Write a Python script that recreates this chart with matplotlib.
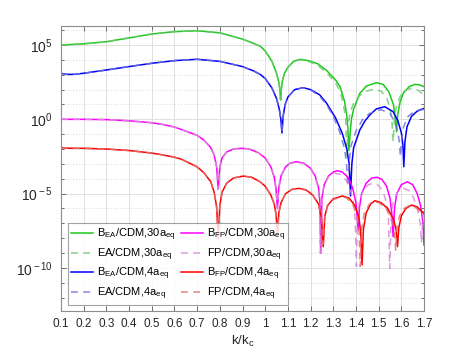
import numpy as np
import matplotlib.pyplot as plt
from matplotlib import ticker

# wavenumber ratio k/k_c and log10 of the amplitude ratio
k_bea30 = [0.1, 0.2, 0.3, 0.4, 0.5, 0.6, 0.7, 0.8, 0.9, 0.95, 0.98, 1.0, 1.03, 1.05, 1.06, 1.065, 1.068,
           1.071, 1.076, 1.085, 1.1, 1.125, 1.153, 1.19, 1.23, 1.27, 1.31, 1.33, 1.35, 1.36, 1.365, 1.369,
           1.375, 1.38, 1.39, 1.417, 1.447, 1.49, 1.52, 1.545, 1.565, 1.574, 1.579, 1.584, 1.595, 1.61,
           1.635, 1.66, 1.68, 1.7]
e_bea30 = [5.0, 5.08, 5.22, 5.48, 5.74, 5.9, 5.96, 5.82, 5.4, 5.1, 4.9, 4.6, 3.9, 3.1, 2.5, 2.0, 1.3,
           2.0, 2.6, 3.1, 3.5, 3.9, 4.04, 3.95, 3.75, 3.3, 2.65, 2.2, 1.2, 0.2, -0.8, -2.1,
           -0.8, 0.0, 0.7, 1.75, 2.25, 2.46, 2.35, 1.85, 1.0, 0.0, -0.83, 0.3, 1.2, 1.8,
           2.2, 2.35, 2.32, 2.2]

k_ea30 = [0.1, 0.2, 0.3, 0.4, 0.5, 0.6, 0.7, 0.8, 0.9, 0.95, 0.98, 1.0, 1.03, 1.05, 1.06, 1.065, 1.068,
          1.071, 1.076, 1.085, 1.1, 1.125, 1.153, 1.19, 1.23, 1.27, 1.31, 1.33, 1.345, 1.355, 1.36,
          1.366, 1.375, 1.39, 1.417, 1.447, 1.48, 1.51, 1.535, 1.55, 1.558, 1.564, 1.57, 1.58, 1.6,
          1.625, 1.65, 1.675, 1.7]
e_ea30 = [5.0, 5.08, 5.22, 5.48, 5.74, 5.9, 5.96, 5.82, 5.4, 5.1, 4.9, 4.6, 3.9, 3.1, 2.5, 2.0, 1.3,
          2.0, 2.6, 3.1, 3.5, 3.88, 4.0, 3.9, 3.65, 3.15, 2.45, 1.9, 1.0, 0.0, -2.5,
          -0.3, 0.5, 1.1, 1.6, 1.9, 2.03, 1.9, 1.45, 0.8, 0.0, -1.5, 0.2, 1.0, 1.7,
          2.0, 2.1, 1.95, 1.64]

k_bea4 = [0.1, 0.13, 0.16, 0.2, 0.3, 0.4, 0.5, 0.6, 0.7, 0.8, 0.9, 0.95, 0.98, 1.0, 1.03, 1.05, 1.062,
          1.069, 1.074, 1.079, 1.088, 1.1, 1.13, 1.167, 1.2, 1.24, 1.27, 1.31, 1.34, 1.36, 1.37, 1.376,
          1.382, 1.39, 1.417, 1.44, 1.461, 1.49, 1.527, 1.564, 1.585, 1.6, 1.607, 1.611, 1.616, 1.625,
          1.645, 1.67, 1.7]
e_bea4 = [3.09, 3.02, 3.03, 3.1, 3.32, 3.55, 3.77, 3.95, 4.04, 3.9, 3.55, 3.25, 3.0, 2.75, 2.1, 1.4, 0.7,
          0.0, -0.92, 0.2, 1.0, 1.5, 2.0, 2.13, 2.0, 1.65, 1.1, 0.1, -0.95, -2.0, -3.0, -5.16,
          -3.0, -1.9, -0.72, -0.1, 0.29, 0.7, 0.85, 0.51, -0.1, -0.9, -1.7, -3.19, -1.5, -0.5,
          0.2, 0.55, 0.74]

k_ea4 = [0.1, 0.13, 0.16, 0.2, 0.3, 0.4, 0.5, 0.6, 0.7, 0.8, 0.9, 0.95, 0.98, 1.0, 1.03, 1.05, 1.062,
         1.069, 1.074, 1.079, 1.088, 1.1, 1.13, 1.167, 1.2, 1.24, 1.27, 1.3, 1.33, 1.35, 1.358, 1.364,
         1.37, 1.378, 1.4, 1.43, 1.46, 1.51, 1.55, 1.572, 1.585, 1.592, 1.596, 1.601, 1.61, 1.63,
         1.66, 1.7]
e_ea4 = [3.09, 3.02, 3.03, 3.1, 3.32, 3.55, 3.77, 3.95, 4.04, 3.9, 3.55, 3.25, 3.0, 2.75, 2.1, 1.4, 0.7,
         0.0, -0.92, 0.2, 1.0, 1.5, 2.0, 2.12, 1.98, 1.55, 1.0, 0.2, -0.9, -2.0, -2.9, -4.5,
         -2.9, -1.8, -0.8, 0.0, 0.4, 0.65, 0.4, -0.2, -0.9, -1.6, -2.5, -1.4, -0.5, 0.2,
         0.55, 0.67]

k_bfp30 = [0.1, 0.2, 0.3, 0.4, 0.5, 0.55, 0.6, 0.63, 0.7, 0.73, 0.76, 0.775, 0.786, 0.793, 0.8, 0.81,
           0.83, 0.86, 0.896, 0.93, 0.97, 1.0, 1.025, 1.04, 1.048, 1.054, 1.06, 1.07, 1.09, 1.11, 1.138,
           1.17, 1.2, 1.22, 1.235, 1.241, 1.245, 1.25, 1.26, 1.28, 1.3, 1.317, 1.34, 1.365, 1.385, 1.4,
           1.405, 1.41, 1.415, 1.425, 1.445, 1.47, 1.493, 1.515, 1.535, 1.55, 1.558, 1.564, 1.57, 1.58,
           1.6, 1.626, 1.65, 1.67, 1.685, 1.695, 1.7]
e_bfp30 = [0.0, 0.0, -0.02, -0.1, -0.23, -0.35, -0.52, -0.68, -1.08, -1.4, -1.9, -2.4, -3.2, -4.71, -3.2, -2.6,
           -2.2, -2.0, -1.95, -2.0, -2.25, -2.6, -3.2, -3.9, -4.7, -6.0, -4.6, -3.8, -3.2, -2.95, -2.85,
           -2.95, -3.3, -3.8, -4.6, -5.5, -9.02, -5.3, -4.4, -3.8, -3.55, -3.46, -3.55, -3.9, -4.6, -5.6,
           -6.5, -7.45, -6.0, -5.0, -4.3, -3.95, -3.9, -4.05, -4.5, -5.3, -6.3, -7.9, -6.0, -5.0,
           -4.4, -4.2, -4.4, -5.0, -5.8, -6.9, -8.46]

k_fp30 = [0.1, 0.2, 0.3, 0.4, 0.5, 0.55, 0.6, 0.63, 0.7, 0.73, 0.76, 0.775, 0.786, 0.793, 0.8, 0.81,
          0.83, 0.86, 0.896, 0.93, 0.97, 1.0, 1.025, 1.04, 1.048, 1.054, 1.06, 1.07, 1.09, 1.11, 1.138,
          1.17, 1.2, 1.22, 1.233, 1.239, 1.243, 1.248, 1.26, 1.28, 1.305, 1.33, 1.355, 1.375, 1.39,
          1.397, 1.402, 1.407, 1.415, 1.435, 1.455, 1.475, 1.5, 1.52, 1.535, 1.543, 1.549, 1.555, 1.565,
          1.585, 1.61, 1.635, 1.655, 1.672, 1.683, 1.689, 1.694, 1.7]
e_fp30 = [0.0, 0.0, -0.02, -0.1, -0.23, -0.35, -0.52, -0.68, -1.08, -1.4, -1.9, -2.4, -3.2, -4.71, -3.2, -2.6,
          -2.2, -2.0, -1.95, -2.0, -2.25, -2.6, -3.2, -3.9, -4.7, -6.0, -4.6, -3.8, -3.2, -2.97, -2.88,
          -2.98, -3.35, -3.85, -4.6, -5.5, -9.0, -5.3, -4.45, -3.85, -3.62, -3.7, -4.05, -4.7, -5.7,
          -6.8, -9.9, -6.6, -5.5, -4.7, -4.4, -4.3, -4.45, -4.9, -5.6, -6.6, -10.03, -6.5, -5.5,
          -4.85, -4.65, -4.8, -5.3, -6.1, -7.0, -8.3, -6.8, -6.1]

k_bfp4 = [0.1, 0.11, 0.15, 0.2, 0.3, 0.4, 0.5, 0.55, 0.6, 0.63, 0.7, 0.73, 0.76, 0.775, 0.786, 0.793, 0.8,
          0.81, 0.83, 0.86, 0.903, 0.94, 0.977, 1.0, 1.025, 1.04, 1.048, 1.054, 1.06, 1.07, 1.09, 1.12,
          1.15, 1.18, 1.21, 1.235, 1.248, 1.256, 1.263, 1.275, 1.3, 1.34, 1.37, 1.395, 1.413, 1.421,
          1.427, 1.433, 1.445, 1.465, 1.483, 1.51, 1.54, 1.565, 1.577, 1.583, 1.589, 1.6, 1.62, 1.645,
          1.67, 1.7]
e_bfp4 = [-1.86, -1.93, -1.95, -1.95, -2.0, -2.1, -2.27, -2.4, -2.55, -2.68, -3.2, -3.6, -4.2, -4.9, -5.9, -8.0, -5.8,
          -4.9, -4.3, -3.95, -3.82, -3.9, -4.2, -4.5, -5.1, -5.7, -6.4, -7.8, -6.3, -5.6, -5.0, -4.7,
          -4.65, -4.75, -5.1, -5.7, -6.6, -8.57, -6.5, -5.8, -5.35, -5.16, -5.3, -5.8, -6.6, -7.6,
          -9.8, -7.4, -6.3, -5.7, -5.48, -5.6, -6.0, -6.7, -7.4, -8.57, -7.3, -6.5, -6.0, -5.77,
          -5.9, -6.33]

k_fp4 = [0.1, 0.11, 0.15, 0.2, 0.3, 0.4, 0.5, 0.55, 0.6, 0.63, 0.7, 0.73, 0.76, 0.775, 0.786, 0.793, 0.8,
         0.81, 0.83, 0.86, 0.903, 0.94, 0.977, 1.0, 1.025, 1.04, 1.048, 1.054, 1.06, 1.07, 1.09, 1.12,
         1.15, 1.18, 1.21, 1.235, 1.248, 1.255, 1.262, 1.275, 1.3, 1.34, 1.36, 1.39, 1.407, 1.414,
         1.419, 1.425, 1.437, 1.46, 1.478, 1.505, 1.535, 1.557, 1.569, 1.575, 1.581, 1.592, 1.612,
         1.637, 1.665, 1.7]
e_fp4 = [-1.86, -1.93, -1.95, -1.95, -2.0, -2.1, -2.27, -2.4, -2.55, -2.68, -3.2, -3.6, -4.2, -4.9, -5.9, -8.0, -5.8,
         -4.9, -4.3, -3.95, -3.82, -3.9, -4.2, -4.5, -5.1, -5.7, -6.4, -7.8, -6.3, -5.6, -5.0, -4.7,
         -4.67, -4.78, -5.12, -5.7, -6.6, -8.4, -6.5, -5.85, -5.4, -5.2, -5.3, -5.85, -6.7, -7.6,
         -9.9, -7.4, -6.3, -5.7, -5.5, -5.65, -6.05, -6.7, -7.4, -8.8, -7.3, -6.5, -6.0,
         -5.8, -5.95, -6.45]

labels = [r'B$_{\rm EA}$/CDM,30a$_{\rm eq}$', r'EA/CDM,30a$_{\rm eq}$',
          r'B$_{\rm EA}$/CDM,4a$_{\rm eq}$', r'EA/CDM,4a$_{\rm eq}$',
          r'B$_{\rm FP}$/CDM,30a$_{\rm eq}$', r'FP/CDM,30a$_{\rm eq}$',
          r'B$_{\rm FP}$/CDM,4a$_{\rm eq}$', r'FP/CDM,4a$_{\rm eq}$']

plt.rcParams['font.family'] = ['Liberation Sans', 'DejaVu Sans']
plt.rcParams['mathtext.fontset'] = 'custom'
plt.rcParams['mathtext.rm'] = 'Liberation Sans'
plt.rcParams['mathtext.it'] = 'Liberation Sans:italic'

fig = plt.figure(figsize=(4.69, 3.52), dpi=100)
ax = fig.add_axes([61 / 469, 1 - 311 / 352, 363 / 469, 285 / 352])

curves = [(k_bea30, e_bea30, '#1ec81e', '-'), (k_ea30, e_ea30, '#70c870', '--'),
          (k_bea4, e_bea4, '#0000ff', '-'), (k_ea4, e_ea4, '#7070d8', '--'),
          (k_bfp30, e_bfp30, '#ff00ff', '-'), (k_fp30, e_fp30, '#d88ad8', '--'),
          (k_bfp4, e_bfp4, '#ff0000', '-'), (k_fp4, e_fp4, '#e07070', '--')]

for (k, e, c, ls), lab in zip(curves, labels):
    if ls == '-':
        ax.plot(k, 10.0 ** np.array(e), color=c, lw=1.1, label=lab)
    else:
        ax.plot(k, 10.0 ** np.array(e), color=c, lw=1.1, ls=(0, (4.5, 3.5)), alpha=0.85, label=lab)

ax.set_yscale('log')
ax.set_xlim(0.1, 1.7)
ax.set_ylim(10 ** -12.9, 10 ** 6.28)
ax.set_xticks(np.arange(0.1, 1.71, 0.1))
ax.set_xticklabels(['0.1', '0.2', '0.3', '0.4', '0.5', '0.6', '0.7', '0.8', '0.9', '1',
                    '1.1', '1.2', '1.3', '1.4', '1.5', '1.6', '1.7'])
ax.yaxis.set_major_locator(ticker.FixedLocator([1e-10, 1e-5, 1e0, 1e5]))
ax.yaxis.set_major_formatter(ticker.FixedFormatter([r'10$^{\rm -10}$', r'10$^{\rm -5}$',
                                                    r'10$^{\rm 0}$', r'10$^{\rm 5}$']))
ax.yaxis.set_minor_locator(ticker.FixedLocator([10.0 ** p for p in range(-13, 7)]))
ax.yaxis.set_minor_formatter(ticker.NullFormatter())

ax.tick_params(which='both', direction='in', top=True, right=True, color='0.35')
ax.tick_params(which='major', length=3.5, width=0.6)
ax.tick_params(which='minor', length=2.2, width=0.6)
ax.tick_params(axis='x', labelsize=8.5, pad=5, labelcolor='0.15')
ax.tick_params(axis='y', labelsize=10, pad=6, labelcolor='0.15')

ax.grid(True, which='major', color='0.88', lw=0.7)
ax.grid(True, which='minor', axis='y', color='0.8', lw=0.6, ls=(0, (1, 2.5)))
ax.set_axisbelow(True)
for s in ax.spines.values():
    s.set_color('0.55')
    s.set_linewidth(0.8)

ax.set_xlabel(r'k/k$_{\rm c}$', fontsize=9.5, color='0.15', labelpad=3)

leg = ax.legend(ncol=2, loc='lower left', bbox_to_anchor=(0.019, 0.021), fontsize=8,
                frameon=True, fancybox=False, edgecolor='0.55', handlelength=2.0,
                columnspacing=0.5, labelspacing=0.28, handletextpad=0.3, borderpad=0.3,
                borderaxespad=0)
leg.get_frame().set_linewidth(0.8)

plt.savefig('out.png', dpi=100)
